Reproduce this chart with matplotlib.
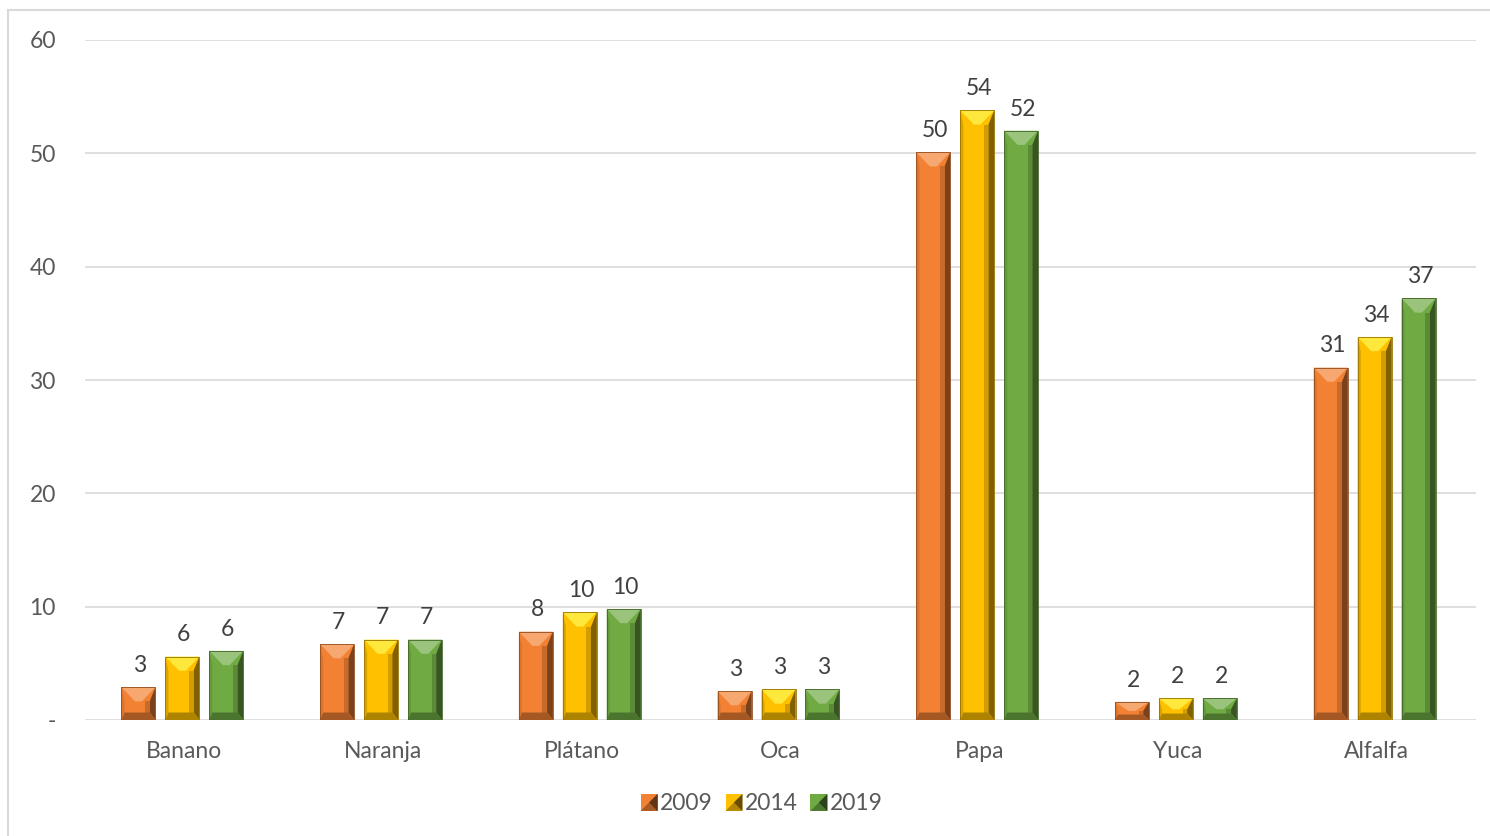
import numpy as np
import matplotlib.pyplot as plt
from matplotlib.patches import Polygon, Rectangle
from matplotlib.legend_handler import HandlerBase
from matplotlib.lines import Line2D

# Crop values per year
cultivos = ['Banano', 'Naranja', 'Plátano', 'Oca', 'Papa', 'Yuca', 'Alfalfa']
anios = ['2009', '2014', '2019']
v2009 = [2.9, 6.7, 7.8, 2.55, 50.1, 1.6, 31.1]
v2014 = [5.6, 7.1, 9.5, 2.7, 53.8, 1.9, 33.8]
v2019 = [6.1, 7.1, 9.8, 2.7, 52.0, 1.9, 37.2]
series = [v2009, v2014, v2019]
colores = ['#F38133', '#FFC000', '#6FAA43']
y_ticks = [0, 10, 20, 30, 40, 50, 60]
y_labels = ['-', '10', '20', '30', '40', '50', '60']

plt.rcParams['font.family'] = ['Lato', 'DejaVu Sans']
GRIS_TXT = '#595959'
GRIS_LIN = '#D9D9D9'
FS = 16.5

W, H = 1490, 836
fig = plt.figure(figsize=(W / 100, H / 100), dpi=100)
ax = fig.add_axes([85 / W, 1 - 720 / H, (1476 - 85) / W, (720 - 40) / H])

x = np.arange(len(cultivos))
paso = 0.221
ancho = 0.171
barras = []
for i, (vals, col) in enumerate(zip(series, colores)):
    bs = ax.bar(x + (i - 1) * paso - 0.01, vals, width=ancho, color=col, zorder=2,
                label=anios[i])
    barras.append(bs)
    for b, v in zip(bs, vals):
        ax.annotate(f'{v:.0f}', (b.get_x() + b.get_width() / 2, v),
                    xytext=(1, 8), textcoords='offset points',
                    ha='center', va='bottom', fontsize=FS, color='#404040')

ax.set_xlim(-0.5, len(cultivos) - 0.5)
ax.set_ylim(0, 60)
ax.set_yticks(y_ticks)
ax.set_yticklabels(y_labels)
ax.set_xticks(x)
ax.set_xticklabels(cultivos)
ax.tick_params(axis='both', length=0, labelsize=FS, labelcolor=GRIS_TXT)
ax.tick_params(axis='y', pad=21)
ax.tick_params(axis='x', pad=15)
ax.yaxis.grid(True, color=GRIS_LIN, lw=1.2, zorder=0)
ax.set_axisbelow(True)
for s in ax.spines.values():
    s.set_visible(False)


def oscurecer(c, f):
    r, g, b = plt.matplotlib.colors.to_rgb(c)
    return (r * f, g * f, b * f)


def aclarar(c, f):
    r, g, b = plt.matplotlib.colors.to_rgb(c)
    return (r + (1 - r) * f, g + (1 - g) * f, b + (1 - b) * f)


# bevel facets drawn in pixel space, then mapped back to data coords
inv = ax.transData.inverted()
for bs, col in zip(barras, colores):
    for b in bs:
        (x0, y0), (x1, y1) = ax.transData.transform(
            [(b.get_x(), 0), (b.get_x() + b.get_width(), b.get_height())])
        bw = x1 - x0
        bh = y1 - y0
        dt = min(0.42 * bw, bh * 0.5)
        db = min(0.22 * bw, bh * 0.3)
        sw = 0.17 * bw
        sl = 0.09 * bw
        amarillo = col == '#FFC000'
        caras = [
            # right side, dark
            ([(x1, y1), (x1 - sw, y1 - dt), (x1 - sw, y0 + db), (x1, y0)],
             oscurecer(col, 0.5)),
            ([(x1 - sw, y1 - dt), (x1 - sw * 1.8, y1 - dt), (x1 - sw * 1.8, y0 + db),
              (x1 - sw, y0 + db)], oscurecer(col, 0.82)),
            # left side
            ([(x0, y1), (x0 + sl, y1 - dt), (x0 + sl, y0 + db), (x0, y0)],
             oscurecer(col, 0.85) if amarillo else oscurecer(col, 0.9)),
            # bottom, dark
            ([(x0, y0), (x1, y0), (x1 - sw, y0 + db), (x0 + sl, y0 + db)],
             oscurecer(col, 0.68)),
            # top, light
            ([(x0, y1), (x1, y1), (x1 - 0.4 * bw, y1 - dt), (x0 + 0.4 * bw, y1 - dt)],
             '#FFE83C' if amarillo else aclarar(col, 0.3)),
        ]
        for pts, c in caras:
            ax.add_patch(Polygon(inv.transform(pts), closed=True, facecolor=c,
                                 edgecolor='none', zorder=3))
        ax.add_patch(Rectangle((b.get_x(), 0), b.get_width(), b.get_height(),
                               fill=False, edgecolor=oscurecer(col, 0.6), lw=0.6,
                               zorder=4))


class HandlerBisel(HandlerBase):
    def create_artists(self, legend, orig, xd, yd, width, height, fontsize, trans):
        col = orig.get_facecolor()
        s = height * 1.05
        x0 = xd + width - s
        y0 = yd + (height - s) / 2
        base = Rectangle((x0, y0), s, s, facecolor=col, edgecolor='none',
                         transform=trans)
        tri2 = Polygon([(x0, y0), (x0 + s, y0 + s), (x0 + s, y0)], closed=True,
                       facecolor=oscurecer(col, 0.7), edgecolor='none',
                       transform=trans)
        tri = Polygon([(x0 + s, y0), (x0 + s, y0 + s), (x0 + s * 0.5, y0 + s * 0.5)],
                      closed=True, facecolor=oscurecer(col, 0.4),
                      edgecolor='none', transform=trans)
        return [base, tri2, tri]


handles = [Rectangle((0, 0), 1, 1, facecolor=c) for c in colores]
fig.legend(handles, anios, loc='center', bbox_to_anchor=(762 / W, 1 - 804 / H),
           ncol=3, frameon=False, fontsize=FS, labelcolor=GRIS_TXT,
           handler_map={Rectangle: HandlerBisel()}, handlelength=0.7,
           handletextpad=0.1, columnspacing=0.6)

# outer chart frame
fig.add_artist(Line2D([8 / W, 1], [1 - 10 / H, 1 - 10 / H], color=GRIS_LIN,
                      lw=1.5, transform=fig.transFigure))
fig.add_artist(Line2D([8 / W, 8 / W], [0, 1 - 10 / H], color=GRIS_LIN,
                      lw=1.5, transform=fig.transFigure))

fig.savefig('out.png', dpi=100)
